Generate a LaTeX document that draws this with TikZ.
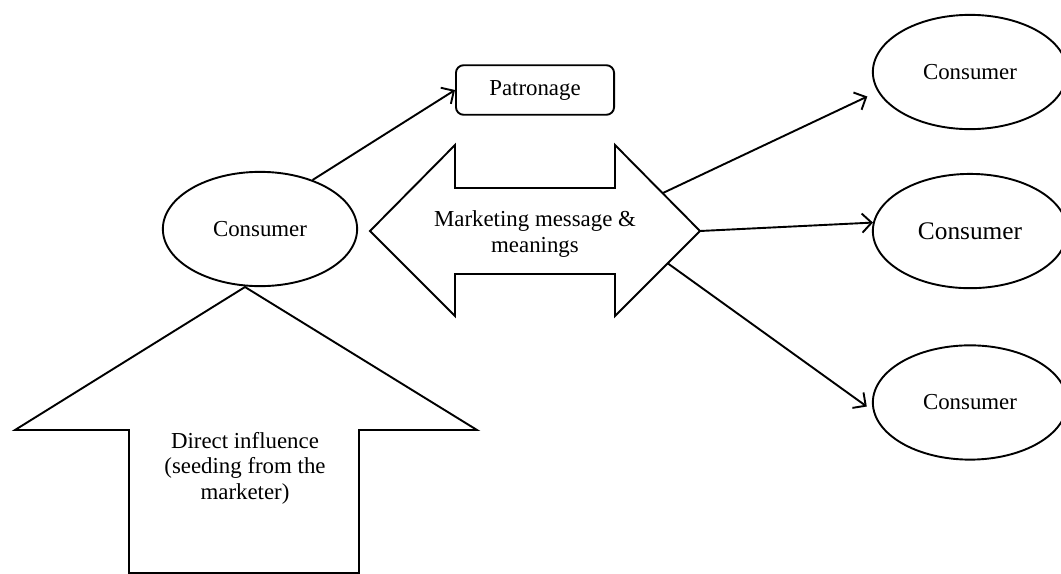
\documentclass[tikz,border=0pt]{standalone}
\usepackage{fontspec}
\setmainfont{Liberation Serif}
\usetikzlibrary{positioning,calc,arrows.meta,shapes.geometric}

\begin{document}
\begin{tikzpicture}[x=0.525pt, y=-0.525pt, line width=1pt,
  txt/.style={font=\fontsize{12}{13.4}\selectfont, align=center},
  cons/.style={draw, ellipse, txt, minimum width=102pt, minimum height=60pt, inner sep=0pt},
  conn/.style={-{Straight Barb[length=5pt,width=10pt]}},
  block/.style={draw, line join=miter}]
\useasboundingbox (0,0) rectangle (1061,573);
\node[cons] (C0) at (260,229) {Consumer};
\node[draw, txt, rounded corners=4pt, minimum width=83pt, minimum height=26pt] (P) at (535,90) {Patronage};
\node[cons] (C1) at (970,72) {Consumer};
\node[cons, font=\fontsize{13.3}{15}\selectfont, below=22.5pt of C1] (C2) {Consumer};
\node[cons, below=29pt of C2] (C3) {Consumer};

% double arrow
\coordinate (tipL) at (370,231);
\coordinate (tipR) at (700,231);
\coordinate (headRt) at (615,145);
\coordinate (headRb) at (615,316);
\draw[block] (tipL) -- (455,145) -- (455,188) -- (615,188) -- (headRt) -- (tipR)
  -- (headRb) -- (615,274) -- (455,274) -- (455,316) -- cycle;
\node[txt] (M) at (535,234) {Marketing message \&\\meanings};

% up arrow
\coordinate (tipU) at (245,287);
\draw[block] (tipU) -- (477,430) -- (359,430) -- (359,573) -- (129,573)
  -- (129,430) -- (15,430) -- cycle;
\node[txt] (D) at (245,468) {Direct influence\\(seeding from the\\marketer)};

\draw[conn] (C0.43) -- (P.west);
\draw[conn, shorten >=6pt] ($(headRt)!0.56!(tipR)$) -- (C1.192);
\draw[conn] (tipR) -- (C2.175);
\draw[conn, shorten >=4pt] ($(tipR)!0.38!(headRb)$) -- (C3.185);
\end{tikzpicture}
\end{document}
